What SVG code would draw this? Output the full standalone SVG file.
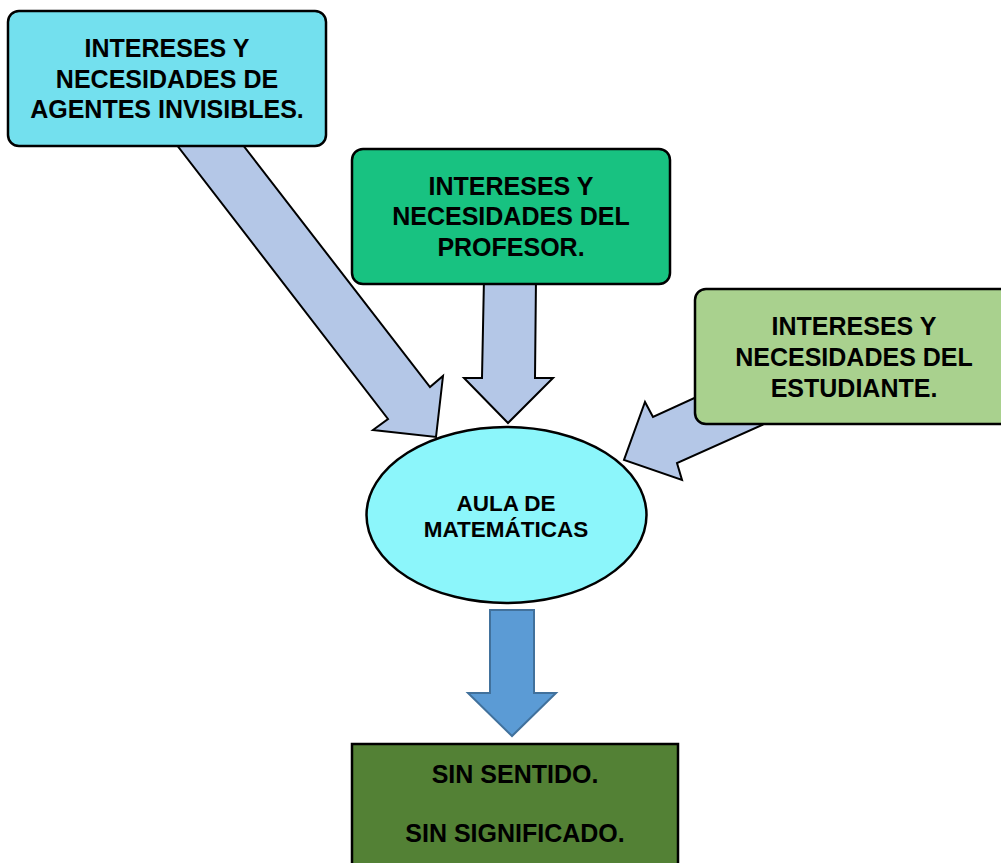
<svg xmlns="http://www.w3.org/2000/svg" width="1001" height="863" viewBox="0 0 1001 863">
  <style>
    .lbl { font-family: "Century Gothic", "Liberation Sans", "DejaVu Sans", sans-serif; font-weight: bold; fill: #000; text-anchor: middle; }
    .big { font-size: 25px; }
    .mid { font-size: 22.5px; }
    .box { stroke: #000; stroke-width: 2.5; }
    .flow { fill: #B4C7E7; stroke: #000; stroke-width: 2; stroke-linejoin: miter; }
  </style>
  <rect width="1001" height="863" fill="#ffffff"/>

  <!-- central ellipse -->
  <g id="aula">
    <ellipse cx="506.5" cy="515" rx="140" ry="88" fill="#8CF6FB" stroke="#000" stroke-width="2.5"/>
    <text class="lbl mid" x="506" y="511">AULA DE</text>
    <text class="lbl mid" x="506" y="537">MATEMÁTICAS</text>
  </g>

  <!-- block arrows -->
  <g id="connectors">
    <polygon class="flow" points="173,140 239,140 430,387 443,376 436,437 373,430 388,419"/>
    <polygon class="flow" points="484,278 536,278 535,378 553,378 508,423 464,378 482,378"/>
    <polygon class="flow" points="760,368 800,408 677,463 682,480 624,460 645,402 653,417"/>
    <polygon points="490,610 534,610 534,693 556,693 512,736 468,693 490,693" fill="#5B9BD5" stroke="#41719C" stroke-width="2"/>
  </g>

  <g id="agentes">
    <rect class="box" x="8" y="11" width="318" height="135" rx="11" fill="#73E0EE"/>
    <text class="lbl big" x="167" y="57">INTERESES Y</text>
    <text class="lbl big" x="167" y="88">NECESIDADES DE</text>
    <text class="lbl big" x="167" y="118">AGENTES INVISIBLES.</text>
  </g>

  <g id="profesor">
    <rect class="box" x="352" y="149" width="318" height="135" rx="11" fill="#18C281"/>
    <text class="lbl big" x="511" y="195">INTERESES Y</text>
    <text class="lbl big" x="511" y="225">NECESIDADES DEL</text>
    <text class="lbl big" x="511" y="256">PROFESOR.</text>
  </g>

  <g id="estudiante">
    <rect class="box" x="695" y="289" width="318" height="135" rx="11" fill="#A9D18E"/>
    <text class="lbl big" x="854" y="335">INTERESES Y</text>
    <text class="lbl big" x="854" y="366">NECESIDADES DEL</text>
    <text class="lbl big" x="854" y="397">ESTUDIANTE.</text>
  </g>

  <g id="resultado">
    <rect class="box" x="352" y="744" width="326" height="130" fill="#538135"/>
    <text class="lbl big" x="515" y="783">SIN SENTIDO.</text>
    <text class="lbl big" x="515" y="842">SIN SIGNIFICADO.</text>
  </g>
</svg>
